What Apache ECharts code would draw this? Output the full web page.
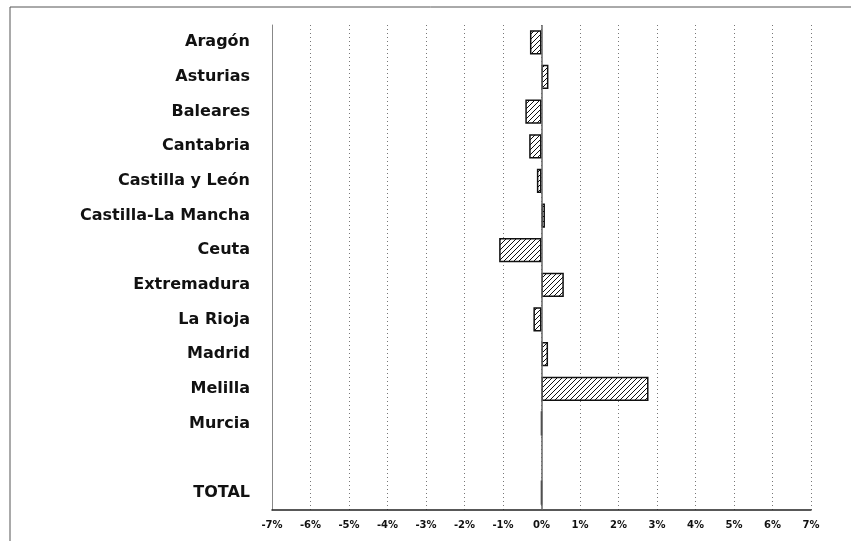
<!DOCTYPE html>
<html>
<head>
<meta charset="utf-8">
<script src="https://cdn.jsdelivr.net/npm/echarts@6/dist/echarts.min.js"></script>
<style>
  html, body { margin: 0; padding: 0; background: #fff; }
  #chart { width: 851px; height: 541px; }
</style>
</head>
<body>
<div id="chart"></div>
<script>
// regiones (de arriba a abajo), hueco vacío antes de TOTAL
const regiones = ['Aragón', 'Asturias', 'Baleares', 'Cantabria', 'Castilla y León', 'Castilla-La Mancha',
  'Ceuta', 'Extremadura', 'La Rioja', 'Madrid', 'Melilla', 'Murcia', '', 'TOTAL']
// variación en %
const variacion = [-0.30, 0.18, -0.42, -0.32, -0.12, 0.09, -1.10, 0.58, -0.21, 0.17, 2.78, 0, null, 0]

// trama rayada ////
const makeHatch = () => {
  const c = document.createElement('canvas')
  c.width = 5
  c.height = 5
  const ctx = c.getContext('2d')
  ctx.fillStyle = '#fff'
  ctx.fillRect(0, 0, 5, 5)
  ctx.strokeStyle = '#111'
  ctx.lineWidth = 1
  ctx.beginPath()
  ctx.moveTo(0, 5)
  ctx.lineTo(5, 0)
  ctx.moveTo(-1, 1)
  ctx.lineTo(1, -1)
  ctx.moveTo(4, 6)
  ctx.lineTo(6, 4)
  ctx.stroke()
  return c
}

const chart = echarts.init(document.getElementById('chart'))

const option = {
  animation: false,
  grid: { left: 272, right: 40, top: 25, bottom: 31 },
  graphic: [
    { type: 'line', shape: { x1: 10, y1: 7, x2: 851, y2: 7 }, style: { stroke: '#555', lineWidth: 1 } },
    { type: 'line', shape: { x1: 10, y1: 7, x2: 10, y2: 541 }, style: { stroke: '#555', lineWidth: 1 } },
  ],
  xAxis: {
    type: 'value',
    min: -7,
    max: 7,
    interval: 1,
    axisLine: { show: true, lineStyle: { color: '#222', width: 1.5 } },
    axisTick: { show: false },
    axisLabel: {
      formatter: (v) => v + '%',
      color: '#111',
      fontFamily: 'DejaVu Sans',
      fontWeight: 'bold',
      fontSize: 10,
      margin: 10,
    },
    splitLine: { show: true, lineStyle: { color: '#777', type: [1, 3], width: 1 } },
  },
  yAxis: {
    type: 'category',
    data: regiones,
    inverse: true,
    axisLine: { show: true, onZero: false, lineStyle: { color: '#888', width: 1 } },
    axisTick: { show: false },
    axisLabel: {
      color: '#111',
      fontFamily: 'DejaVu Sans',
      fontWeight: 'bold',
      fontSize: 16,
      margin: 22,
    },
    splitLine: { show: false },
  },
  series: [
    {
      type: 'bar',
      data: variacion,
      barCategoryGap: '30%',
      itemStyle: {
        color: { image: makeHatch(), repeat: 'repeat' },
        borderColor: '#111',
        borderWidth: 1.5,
      },
      markLine: {
        silent: true,
        symbol: ['none', 'none'],
        label: { show: false },
        lineStyle: { color: '#666', type: 'solid', width: 1.5 },
        data: [{ xAxis: 0 }],
      },
    },
  ],
}

chart.setOption(option)
</script>
</body>
</html>
